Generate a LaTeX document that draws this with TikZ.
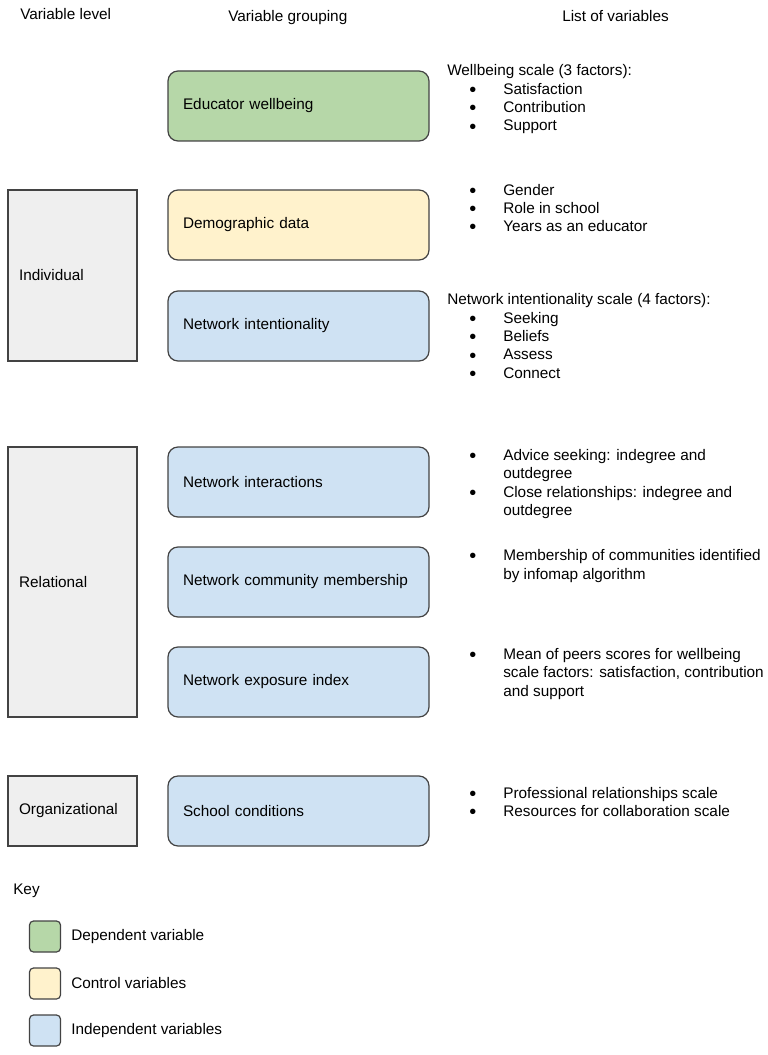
\documentclass[tikz,border=0pt]{standalone}
\usepackage{fontspec}
\setmainfont{Liberation Sans}
\definecolor{depgreen}{HTML}{B6D7A8}
\definecolor{ctrlyellow}{HTML}{FFF2CC}
\definecolor{indblue}{HTML}{CFE2F3}
\definecolor{levelgrey}{HTML}{EFEFEF}
\definecolor{edgegrey}{HTML}{434343}
\newcommand{\bul}[1]{\hspace*{16.5pt}\makebox[25.5pt][l]{\smash{\raisebox{-1.6pt}{\scalebox{1.3}{\textbullet}}}}#1}
\newcommand{\cont}[1]{\hspace*{42pt}#1}
\begin{document}
\begin{tikzpicture}[x=0.75pt,y=-0.75pt,font=\fontsize{11.5}{13.75}\selectfont,
  group/.style={draw=edgegrey,line width=0.9pt,rounded corners=7.5pt,
    minimum width=195.75pt,minimum height=52.5pt,text width=173.25pt,
    inner xsep=11.25pt,align=left},
  level/.style={draw=edgegrey,line width=0.9pt,fill=levelgrey,
    minimum width=96.75pt,text width=80.25pt,inner xsep=8.25pt,align=left},
  keybox/.style={draw=edgegrey,line width=0.9pt,rounded corners=3pt,
    minimum size=23.25pt,inner sep=0pt},
  listtext/.style={anchor=base west,inner sep=0pt,align=left},
  label/.style={anchor=base west,inner sep=0pt}]
 \useasboundingbox (0,0) rectangle (767,1055);
 \node[label] (hlevel) at (20,20) {Variable level};
 \node[label] (hgroup) at (228,22) {Variable grouping};
 \node[label] (hlist) at (562,22) {List of variables};

 \node[group,fill=depgreen] (wellbeing) at (298.5,106) {Educator wellbeing};
 \node[group,fill=ctrlyellow] (demog) at (298.5,225) {Demographic data};
 \node[group,fill=indblue] (intent) at (298.5,326) {Network intentionality};
 \node[group,fill=indblue] (interact) at (298.5,482) {Network interactions};
 \node[group,fill=indblue] (commun) at (298.5,582) {Network community membership};
 \node[group,fill=indblue] (exposure) at (298.5,682) {Network exposure index};
 \node[group,fill=indblue] (school) at (298.5,811) {School conditions};

 \node[level,minimum height=128.25pt] (individual) at (72.5,275.5) {Individual};
 \node[level,minimum height=202.5pt] (relational) at (72.5,582) {Relational};
 \node[level,minimum height=52.5pt] (organiz) at (72.5,811) {Organizational};

 \node[listtext] (wblist) at (447,131) {Wellbeing scale (3 factors):\\
    \bul{Satisfaction}\\ \bul{Contribution}\\ \bul{Support}};
 \node[listtext] (demlist) at (447,231.7) {\bul{Gender}\\ \bul{Role in school}\\
    \bul{Years as an educator}};
 \node[listtext] (intlist) at (447,378.3) {Network intentionality scale (4 factors):\\
    \bul{Seeking}\\ \bul{Beliefs}\\ \bul{Assess}\\ \bul{Connect}};
 \node[listtext] (interlist) at (447,515.5) {\bul{Advice seeking: indegree and}\\
    \cont{outdegree}\\ \bul{Close relationships: indegree and}\\ \cont{outdegree}};
 \node[listtext] (comlist) at (447,579) {\bul{Membership of communities identified}\\
    \cont{by infomap algorithm}};
 \node[listtext] (explist) at (447,696) {\bul{Mean of peers scores for wellbeing}\\
    \cont{scale factors: satisfaction, contribution}\\ \cont{and support}};
 \node[listtext] (schlist) at (447,816.7) {\bul{Professional relationships scale}\\
    \bul{Resources for collaboration scale}};

 \node[label] (key) at (13,894) {Key};
 \node[keybox,fill=depgreen] (kdep) at (45,936.5) {};
 \node[keybox,fill=ctrlyellow] (kctrl) at (45,983.5) {};
 \node[keybox,fill=indblue] (kind) at (45,1030.5) {};
 \node[anchor=west,inner sep=0pt] (kdeptext) at (71,936.5) {Dependent variable};
 \node[anchor=west,inner sep=0pt] (kctrltext) at (71,983.5) {Control variables};
 \node[anchor=west,inner sep=0pt] (kindtext) at (71,1030.5) {Independent variables};
\end{tikzpicture}
\end{document}
